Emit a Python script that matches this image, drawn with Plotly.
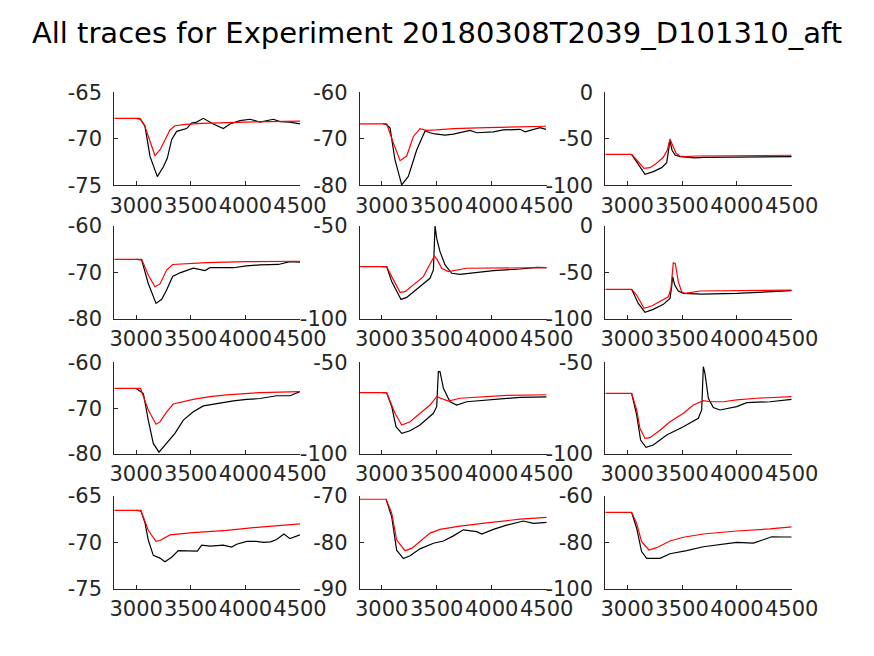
import plotly.graph_objects as go

# ---------------- data ----------------
# Panel 1
p1_red_x = [2800, 3035, 3081, 3127, 3172, 3218, 3279, 3310, 3355, 3450, 3600, 4000, 4500]
p1_red_y = [-67.8, -67.8, -68.7, -70.3, -71.8, -71.2, -69.8, -69.05, -68.6, -68.45, -68.35, -68.2, -68.1]
p1_blk_x = [3000, 3040, 3080, 3127, 3194, 3249, 3285, 3325, 3371, 3462, 3508, 3554, 3615, 3645, 3706, 3798, 3859, 3951, 4042, 4134, 4256, 4317, 4408, 4500]
p1_blk_y = [-67.8, -67.9, -68.6, -71.9, -74.07, -73.0, -72.1, -70.1, -69.2, -68.9, -68.3, -68.2, -67.8, -68.0, -68.4, -68.9, -68.4, -68.05, -67.9, -68.2, -67.9, -68.15, -68.2, -68.4]
# Panel 2
p2_red_x = [2800, 3045, 3100, 3167, 3227, 3288, 3348, 3379, 3409, 3500, 3652, 3955, 4197, 4494]
p2_red_y = [-66.8, -66.8, -70.5, -74.7, -73.7, -69.5, -67.8, -67.96, -68.2, -68.1, -67.8, -67.6, -67.4, -67.3]
p2_blk_x = [3009, 3040, 3076, 3121, 3182, 3242, 3318, 3394, 3439, 3485, 3576, 3652, 3803, 3864, 4015, 4106, 4258, 4303, 4439, 4494]
p2_blk_y = [-66.7, -66.9, -67.7, -74.55, -79.9, -78.1, -72.4, -68.3, -68.7, -68.96, -69.2, -69.0, -68.2, -68.7, -68.5, -68.1, -67.96, -68.5, -67.6, -67.96]
# Panel 3
p3_red_x = [2800, 3040, 3086, 3153, 3207, 3268, 3329, 3366, 3390, 3414, 3445, 3481, 3527, 3633, 4500]
p3_red_y = [-66.7, -66.7, -72.8, -81.7, -81.0, -76.3, -69.9, -62.0, -50.2, -56.6, -65.6, -68.5, -69.2, -68.5, -67.7]
p3_blk_x = [3040, 3101, 3162, 3238, 3314, 3360, 3378, 3390, 3408, 3436, 3481, 3618, 3694, 3998, 4500]
p3_blk_y = [-66.7, -78.1, -88.2, -85.3, -81.0, -75.6, -62.0, -52.0, -62.0, -67.4, -69.2, -70.6, -69.9, -69.5, -69.2]
# Panel 4
p4_red_x = [2800, 3050, 3110, 3172, 3218, 3279, 3334, 3523, 3645, 4012, 4500]
p4_red_y = [-67.2, -67.2, -70.5, -73.1, -72.5, -69.5, -68.3, -68.1, -67.9, -67.7, -67.6]
p4_blk_x = [3000, 3050, 3111, 3182, 3234, 3279, 3334, 3401, 3523, 3584, 3630, 3676, 3890, 4012, 4134, 4302, 4408, 4500]
p4_blk_y = [-67.2, -67.3, -72.4, -76.7, -75.8, -73.8, -70.9, -70.1, -69.1, -69.3, -69.6, -69.0, -69.0, -68.6, -68.4, -68.3, -67.7, -67.8]
# Panel 5
p5_red_x = [2800, 3045, 3091, 3167, 3212, 3288, 3379, 3439, 3479, 3506, 3545, 3606, 3773, 4500]
p5_red_y = [-71.9, -71.9, -77.3, -85.8, -85.4, -81.8, -77.3, -70.5, -66.2, -68.3, -72.8, -74.6, -72.8, -72.5]
p5_blk_x = [3000, 3045, 3091, 3176, 3227, 3348, 3439, 3470, 3485, 3500, 3530, 3576, 3636, 3712, 4015, 4258, 4409, 4500]
p5_blk_y = [-71.9, -71.9, -80.0, -89.6, -88.5, -82.7, -78.2, -73.7, -50.0, -56.7, -63.8, -71.0, -75.5, -76.1, -74.1, -73.2, -72.3, -72.5]
# Panel 6
p6_red_x = [2800, 3040, 3086, 3153, 3223, 3299, 3375, 3399, 3420, 3438, 3466, 3496, 3527, 3664, 3998, 4500]
p6_red_y = [-68.3, -68.3, -74.5, -88.8, -86.3, -81.6, -76.3, -67.3, -39.6, -40.3, -60.1, -70.9, -72.7, -70.1, -69.4, -69.1]
p6_blk_x = [3040, 3101, 3162, 3238, 3329, 3390, 3405, 3414, 3433, 3466, 3512, 3679, 3998, 4302, 4500]
p6_blk_y = [-68.3, -83.5, -93.2, -89.9, -84.5, -78.1, -65.5, -54.7, -63.7, -70.1, -72.7, -73.4, -72.7, -71.2, -69.8]
# Panel 7
p7_red_x = [2800, 3040, 3111, 3182, 3218, 3279, 3340, 3417, 3523, 3676, 3829, 4134, 4500]
p7_red_y = [-65.7, -65.7, -70.4, -73.5, -73.0, -70.8, -69.1, -68.7, -68.1, -67.5, -67.1, -66.6, -66.4]
p7_blk_x = [3000, 3066, 3111, 3157, 3209, 3279, 3355, 3432, 3523, 3615, 3737, 3890, 4012, 4134, 4286, 4408, 4500]
p7_blk_y = [-65.7, -66.8, -72.6, -77.7, -79.6, -77.7, -75.5, -72.6, -70.8, -69.5, -69.0, -68.4, -68.1, -67.9, -67.3, -67.3, -66.4]
# Panel 8
p8_red_x = [2800, 3045, 3121, 3182, 3258, 3348, 3439, 3500, 3545, 3606, 3712, 3955, 4136, 4500]
p8_red_y = [-66.5, -66.5, -77.8, -84.2, -82.4, -77.8, -73.3, -68.7, -69.6, -71.1, -69.6, -68.7, -68.0, -67.7]
p8_blk_x = [3009, 3045, 3091, 3130, 3182, 3258, 3348, 3470, 3500, 3515, 3530, 3561, 3621, 3682, 3773, 3955, 4136, 4258, 4500]
p8_blk_y = [-66.5, -66.6, -74.1, -85.1, -88.7, -87.3, -84.2, -77.8, -74.2, -55.1, -55.1, -64.2, -71.5, -73.3, -71.5, -70.5, -69.6, -69.1, -68.9]
# Panel 9
p9_red_x = [2800, 3040, 3086, 3116, 3162, 3207, 3299, 3390, 3512, 3603, 3694, 3755, 3877, 3998, 4181, 4500]
p9_red_y = [-66.9, -66.9, -76.0, -86.0, -91.5, -91.1, -87.0, -82.4, -77.8, -73.3, -70.9, -71.5, -71.5, -70.5, -69.6, -68.7]
p9_blk_x = [3040, 3086, 3122, 3171, 3238, 3360, 3512, 3648, 3679, 3694, 3709, 3740, 3785, 3846, 3998, 4090, 4302, 4500]
p9_blk_y = [-66.9, -78.7, -92.4, -96.4, -95.1, -89.6, -85.1, -80.5, -76.0, -52.4, -56.0, -69.6, -74.7, -76.0, -74.2, -72.0, -71.5, -70.2]
# Panel 10
p10_red_x = [2800, 3043, 3111, 3182, 3218, 3310, 3523, 3829, 4134, 4500]
p10_red_y = [-66.55, -66.55, -68.7, -69.9, -69.8, -69.2, -68.96, -68.7, -68.35, -68.0]
p10_blk_x = [3000, 3043, 3081, 3111, 3157, 3218, 3264, 3325, 3386, 3508, 3560, 3600, 3676, 3798, 3874, 3920, 4012, 4100, 4165, 4230, 4286, 4353, 4408, 4500]
p10_blk_y = [-66.55, -66.6, -67.9, -69.75, -71.4, -71.7, -72.1, -71.6, -70.9, -70.9, -70.95, -70.3, -70.4, -70.3, -70.5, -70.2, -69.9, -69.9, -70.0, -69.95, -69.7, -69.1, -69.6, -69.2]
# Panel 11
p11_red_x = [2800, 3040, 3091, 3136, 3212, 3273, 3348, 3439, 3530, 3712, 3955, 4258, 4500]
p11_red_y = [-70.7, -70.7, -73.7, -79.5, -81.8, -81.3, -79.8, -78.0, -77.2, -76.5, -75.8, -75.0, -74.6]
p11_blk_x = [3040, 3091, 3136, 3197, 3258, 3348, 3470, 3561, 3652, 3742, 3864, 3909, 4015, 4136, 4288, 4379, 4500]
p11_blk_y = [-70.7, -74.5, -81.7, -83.5, -82.9, -81.4, -80.2, -79.7, -78.6, -77.3, -77.7, -78.2, -77.2, -76.3, -75.4, -75.9, -75.7]
# Panel 12
p12_red_x = [2800, 3040, 3086, 3131, 3198, 3268, 3390, 3512, 3694, 3998, 4302, 4500]
p12_red_y = [-67.05, -67.05, -71.8, -79.7, -83.3, -82.3, -79.4, -77.8, -76.4, -75.1, -74.2, -73.3]
p12_blk_x = [3040, 3086, 3131, 3177, 3299, 3390, 3542, 3694, 3998, 4150, 4241, 4317, 4424, 4500]
p12_blk_y = [-67.05, -73.9, -84.0, -86.9, -86.9, -84.9, -83.6, -81.9, -80.0, -80.3, -78.9, -77.6, -77.7, -77.7]

x_range = [2800, 4500]
x_ticks = [3000, 3500, 4000, 4500]
y_ranges = [[-75, -65], [-80, -60], [-100, 0],
            [-80, -60], [-100, -50], [-100, 0],
            [-80, -60], [-100, -50], [-100, -50],
            [-75, -65], [-90, -70], [-100, -60]]
y_ticks = [[-75, -70, -65], [-80, -70, -60], [-100, -50, 0],
           [-80, -70, -60], [-100, -50], [-100, -50, 0],
           [-80, -70, -60], [-100, -50], [-100, -50],
           [-75, -70, -65], [-90, -80, -70], [-100, -80, -60]]
title_text = "All traces for Experiment 20180308T2039_D101310_aft"

panels = [
    (p1_blk_x, p1_blk_y, p1_red_x, p1_red_y),
    (p2_blk_x, p2_blk_y, p2_red_x, p2_red_y),
    (p3_blk_x, p3_blk_y, p3_red_x, p3_red_y),
    (p4_blk_x, p4_blk_y, p4_red_x, p4_red_y),
    (p5_blk_x, p5_blk_y, p5_red_x, p5_red_y),
    (p6_blk_x, p6_blk_y, p6_red_x, p6_red_y),
    (p7_blk_x, p7_blk_y, p7_red_x, p7_red_y),
    (p8_blk_x, p8_blk_y, p8_red_x, p8_red_y),
    (p9_blk_x, p9_blk_y, p9_red_x, p9_red_y),
    (p10_blk_x, p10_blk_y, p10_red_x, p10_red_y),
    (p11_blk_x, p11_blk_y, p11_red_x, p11_red_y),
    (p12_blk_x, p12_blk_y, p12_red_x, p12_red_y),
]

# ---------------- layout ----------------
W, H = 874, 656
col_px = [(114.3, 300.0), (359.7, 546.7), (605.3, 791.7)]
row_px = [(92.3, 185.3), (226.0, 318.7), (362.3, 454.0), (496.0, 588.7)]
axis_col = "#262626"
font_fam = "DejaVu Sans, Arial, sans-serif"
tick_font = dict(family=font_fam, size=21, color=axis_col)

fig = go.Figure()
layout = dict(
    width=W, height=H,
    margin=dict(l=0, r=0, t=0, b=0),
    paper_bgcolor="white", plot_bgcolor="white",
    showlegend=False,
    title=dict(text=title_text, x=0.5, xanchor="center", y=1 - 33 / H, yanchor="middle",
               font=dict(family=font_fam, size=29, color="#000000")),
)

for i, (bx, by, rx, ry) in enumerate(panels):
    r, c = divmod(i, 3)
    n = "" if i == 0 else str(i + 1)
    xa, ya = "x" + n, "y" + n
    fig.add_trace(go.Scatter(x=bx, y=by, mode="lines", line=dict(color="black", width=1.2),
                             xaxis=xa, yaxis=ya, hoverinfo="skip"))
    fig.add_trace(go.Scatter(x=rx, y=ry, mode="lines", line=dict(color="red", width=1.2),
                             xaxis=xa, yaxis=ya, hoverinfo="skip"))
    x0, x1 = col_px[c]
    yt, yb = row_px[r]
    layout["xaxis" + n] = dict(
        domain=[x0 / W, x1 / W], range=x_range, tickvals=x_ticks,
        ticktext=[str(v) for v in x_ticks], anchor=ya, tickangle=0,
        showline=True, linecolor=axis_col, linewidth=1, showgrid=False, zeroline=False,
        ticks="inside", ticklen=4, tickcolor=axis_col, tickfont=tick_font, automargin=False,
        ticklabelstandoff=1,
    )
    layout["yaxis" + n] = dict(
        domain=[1 - yb / H, 1 - yt / H], range=y_ranges[i], tickvals=y_ticks[i],
        ticktext=[str(v) for v in y_ticks[i]], anchor=xa, tickangle=0,
        showline=True, linecolor=axis_col, linewidth=1, showgrid=False, zeroline=False,
        ticks="inside", ticklen=4, tickcolor=axis_col, tickfont=tick_font, automargin=False,
        ticklabelstandoff=7,
    )

fig.update_layout(**layout)
fig.write_html("out.html")
